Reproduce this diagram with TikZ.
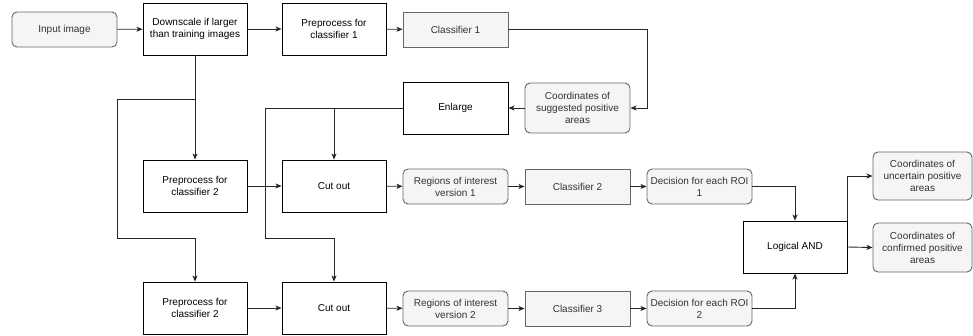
\documentclass[tikz,border=0pt]{standalone}
\usepackage{fontspec}
\setmainfont{Liberation Sans}
\usetikzlibrary{arrows.meta}
\definecolor{gfill}{HTML}{F5F5F5}
\definecolor{gline}{HTML}{666666}
\definecolor{gtext}{HTML}{333333}
\tikzset{
  base/.style={inner sep=0pt, align=center, font=\fontsize{10}{12}\selectfont, line width=0.9pt},
  wbox/.style={base, draw=black, fill=white, minimum width=104pt, minimum height=52pt},
  gbox/.style={base, draw=gline, fill=gfill, text=gtext, minimum width=105pt, minimum height=35pt},
  grbox/.style={gbox, rounded corners=5pt},
  conn/.style={line width=0.9pt, draw=black!85, -{Stealth[length=6pt,width=5pt,inset=1.5pt]}},
  plain/.style={line width=0.9pt, draw=black!85},
}
\begin{document}
\begin{tikzpicture}[x=1pt,y=-1pt]
\useasboundingbox (0,0) rectangle (973,335);
% nodes
\node[grbox] (inp) at (64.5,29.5) {Input image};
\node[wbox] (down) at (195,29) {Downscale if larger\\than training images};
\node[wbox] (pre1) at (334,29) {Preprocess for\\classifier 1};
\node[gbox] (cls1) at (455.5,29.5) {Classifier 1};
\node[grbox, minimum height=50pt] (coords) at (577.5,108) {Coordinates of\\suggested positive\\areas};
\node[wbox, minimum width=105pt] (enl) at (455.5,108) {Enlarge};
\node[wbox] (pre2a) at (195,186) {Preprocess for\\classifier 2};
\node[wbox] (cuta) at (334,186) {Cut out};
\node[grbox] (roi1) at (455.5,186.5) {Regions of interest\\version 1};
\node[gbox] (cls2) at (577.5,186.5) {Classifier 2};
\node[grbox] (dec1) at (699.5,186.5) {Decision for each ROI\\1};
\node[wbox] (pre2b) at (195,308) {Preprocess for\\classifier 2};
\node[wbox] (cutb) at (334,308) {Cut out};
\node[grbox] (roi2) at (455.5,308.5) {Regions of interest\\version 2};
\node[gbox] (cls3) at (577.5,308.5) {Classifier 3};
\node[grbox] (dec2) at (699.5,308.5) {Decision for each ROI\\2};
\node[wbox] (and) at (795,247) {Logical AND};
\node[grbox, minimum width=99pt, minimum height=48pt] (unc) at (922.5,176) {Coordinates of\\uncertain positive\\areas};
\node[grbox, minimum width=99pt, minimum height=49pt] (conf) at (922.5,247.5) {Coordinates of\\confirmed positive\\areas};
% helper coordinates
\coordinate (c1) at (647,108);
\coordinate (j1) at (195,99);
\coordinate (l1) at (117,99);
\coordinate (l2) at (117,238);
\coordinate (e1) at (265,108);
\coordinate (e2) at (265,238);
% connectors
\draw[conn] (inp) -- (down);
\draw[conn] (down) -- (pre1);
\draw[conn] (pre1) -- (cls1);
\draw[conn] (cls1.east) -| (c1) -- (coords.east);
\draw[conn] (coords) -- (enl);
\draw[conn] (enl.west) -| (cuta.north);
\draw[conn] (enl.west) -- (e1) -- (e2) -| (cutb.north);
\draw[conn] (down) -- (pre2a);
\draw[conn] (j1) -- (l1) -- (l2) -| (pre2b.north);
\draw[conn] (pre2a) -- (cuta);
\draw[conn] (cuta) -- (roi1);
\draw[conn] (roi1) -- (cls2);
\draw[conn] (cls2) -- (dec1);
\draw[conn] (pre2b) -- (cutb);
\draw[conn] (cutb) -- (roi2);
\draw[conn] (roi2) -- (cls3);
\draw[conn] (cls3) -- (dec2);
\draw[conn] (dec1.east) -| (and.north);
\draw[conn] (dec2.east) -| (and.south);
\draw[conn] (and.north east) |- (unc.west);
\draw[conn] (and.east) -- (conf.west);
\end{tikzpicture}
\end{document}
